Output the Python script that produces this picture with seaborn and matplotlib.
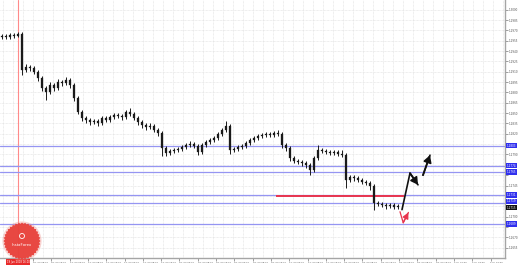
import numpy as np
import pandas as pd
import matplotlib
matplotlib.use("Agg")
import matplotlib.pyplot as plt
import matplotlib.patches as mpatches
import matplotlib.transforms as mtransforms
import seaborn as sns

# ---------------- data ----------------
first_open = 1.2960
closes = [1.2962, 1.2960, 1.2963, 1.2962, 1.2965, 1.2913, 1.2917, 1.2915, 1.2910, 1.2901,
          1.2886, 1.2881, 1.2891, 1.2886, 1.2895, 1.2894, 1.2898, 1.2891, 1.2872, 1.2852,
          1.2843, 1.2840, 1.2837, 1.2839, 1.2836, 1.2843, 1.2840, 1.2844, 1.2847, 1.2846,
          1.2844, 1.2852, 1.2849, 1.2843, 1.2837, 1.2833, 1.2830, 1.2831, 1.2826, 1.2821,
          1.2799, 1.2792, 1.2795, 1.2797, 1.2798, 1.2801, 1.2804, 1.2805, 1.2802, 1.2794,
          1.2804, 1.2808, 1.2811, 1.2814, 1.2820, 1.2826, 1.2831, 1.2797, 1.2798, 1.2801,
          1.2802, 1.2807, 1.2811, 1.2814, 1.2817, 1.2818, 1.2820, 1.2818, 1.2821, 1.2820,
          1.2804, 1.2799, 1.2785, 1.2781, 1.2779, 1.2778, 1.2775, 1.2768, 1.2785, 1.2797,
          1.2795, 1.2794, 1.2792, 1.2794, 1.2791, 1.2789, 1.2753, 1.2757, 1.2756, 1.2753,
          1.2750, 1.2749, 1.2744, 1.2720, 1.2718, 1.2717, 1.2715, 1.2717, 1.2714, 1.2715]
highs = [1.2965, 1.2965, 1.2966, 1.2966, 1.2968, 1.2968, 1.2921, 1.2920, 1.2918, 1.2913,
         1.2904, 1.2889, 1.2895, 1.2894, 1.2899, 1.2898, 1.2902, 1.2901, 1.2894, 1.2875,
         1.2855, 1.2846, 1.2843, 1.2842, 1.2842, 1.2846, 1.2846, 1.2847, 1.2850, 1.2850,
         1.2849, 1.2855, 1.2857, 1.2852, 1.2846, 1.2840, 1.2836, 1.2835, 1.2834, 1.2829,
         1.2824, 1.2802, 1.2798, 1.2800, 1.2801, 1.2804, 1.2807, 1.2809, 1.2808, 1.2805,
         1.2807, 1.2811, 1.2814, 1.2817, 1.2823, 1.2829, 1.2838, 1.2834, 1.2801, 1.2804,
         1.2805, 1.2810, 1.2814, 1.2817, 1.2820, 1.2821, 1.2823, 1.2823, 1.2824, 1.2825,
         1.2823, 1.2807, 1.2802, 1.2788, 1.2784, 1.2782, 1.2781, 1.2778, 1.2788, 1.2804,
         1.2800, 1.2798, 1.2797, 1.2797, 1.2797, 1.2796, 1.2792, 1.2760, 1.2760, 1.2759,
         1.2756, 1.2753, 1.2752, 1.2747, 1.2723, 1.2721, 1.2720, 1.2720, 1.2720, 1.2718]
lows = [1.2957, 1.2957, 1.2958, 1.2959, 1.2960, 1.2905, 1.2909, 1.2911, 1.2906, 1.2897,
        1.2882, 1.2869, 1.2877, 1.2882, 1.2883, 1.2890, 1.2891, 1.2887, 1.2868, 1.2848,
        1.2838, 1.2836, 1.2833, 1.2834, 1.2832, 1.2833, 1.2837, 1.2837, 1.2841, 1.2843,
        1.2840, 1.2841, 1.2846, 1.2840, 1.2833, 1.2829, 1.2826, 1.2827, 1.2822, 1.2817,
        1.2788, 1.2788, 1.2789, 1.2792, 1.2794, 1.2795, 1.2798, 1.2801, 1.2799, 1.2789,
        1.2791, 1.2801, 1.2805, 1.2808, 1.2811, 1.2817, 1.2823, 1.2791, 1.2793, 1.2795,
        1.2798, 1.2799, 1.2804, 1.2808, 1.2811, 1.2814, 1.2815, 1.2815, 1.2815, 1.2817,
        1.2800, 1.2795, 1.2781, 1.2777, 1.2776, 1.2774, 1.2771, 1.2760, 1.2765, 1.2782,
        1.2792, 1.2791, 1.2789, 1.2789, 1.2788, 1.2786, 1.2741, 1.2750, 1.2752, 1.2750,
        1.2747, 1.2746, 1.2739, 1.2710, 1.2715, 1.2714, 1.2711, 1.2712, 1.2711, 1.2711]

level_prices = [1.2803, 1.2774, 1.2765, 1.2731, 1.2719, 1.2689]
level_labels = ["1.2803", "1.2774", "1.2765", "1.2731", "1.2719", "1.2689"]
red_level = 1.2730
red_level_start, red_level_end = 68.5, 100.5
current_price = 1.2715
current_label = "1.2715"
marker_index = 4.0
marker_label = "19 Jun 2018 16:00"

forecast1_x = [100.0, 102.0, 104.0]
forecast1_y = [1.2710, 1.2763, 1.2746]
forecast2_x = [105.25, 107.0]
forecast2_y = [1.2760, 1.2789]
red_arrow_x = [99.5, 100.3, 101.6]
red_arrow_y = [1.2707, 1.2691, 1.2706]

ytick_values = [1.3000, 1.2985, 1.2970, 1.2955, 1.2940, 1.2925, 1.2910, 1.2895, 1.2880,
                1.2865, 1.2850, 1.2835, 1.2820, 1.2805, 1.2790, 1.2775, 1.2760, 1.2745,
                1.2730, 1.2715, 1.2700, 1.2685, 1.2670, 1.2655]
ytick_labels = ["1.3000", "1.2985", "1.2970", "1.2955", "1.2940", "1.2925", "1.2910", "1.2895",
                "1.2880", "1.2865", "1.2850", "1.2835", "1.2820", "1.2805", "1.2790", "1.2775",
                "1.2760", "1.2745", "1.2730", "1.2715", "1.2700", "1.2685", "1.2670", "1.2655"]
xtick_labels = ["20 Jun 08:00", "20 Jun 16:00", "21 Jun 00:00", "21 Jun 08:00", "21 Jun 16:00",
                "22 Jun 00:00", "22 Jun 08:00", "22 Jun 16:00", "25 Jun 00:00", "25 Jun 08:00",
                "25 Jun 16:00", "26 Jun 00:00", "26 Jun 08:00", "26 Jun 16:00", "27 Jun 00:00",
                "27 Jun 08:00", "27 Jun 16:00", "28 Jun 00:00", "28 Jun 08:00", "28 Jun 16:00",
                "29 Jun 00:00", "29 Jun 08:00", "29 Jun 16:00", "2 Jul 00:00", "2 Jul 08:00",
                "2 Jul 16:00"]

# ---------------- frame ----------------
sns.set_theme(style="white")
plt.rcParams["font.family"] = ["DejaVu Sans"]

W, H = 518, 265
fig = plt.figure(figsize=(W / 100, H / 100), dpi=100)
fig.patch.set_facecolor("white")
ax = fig.add_axes([0, 7 / H, 505 / W, 258 / H])
ax.set_facecolor("white")

ax.set_xlim(-0.5, 125.75)
ax.set_ylim(1.26399, 1.3014)

df = pd.DataFrame({"idx": np.arange(len(closes)), "close": closes, "high": highs, "low": lows})
df["open"] = [first_open] + closes[:-1]

# grid
for yv in ytick_values:
    ax.axhline(yv, color="#dedede", lw=0.5, ls=(0, (1, 1)), zorder=0)
for px in np.arange(3.3, 505, 10.0):
    ax.axvline((px - 2) / 4, color="#dedede", lw=0.5, ls=(0, (1, 1)), zorder=0)

# marker vertical line
ax.axvline(marker_index, color="#ff8a8a", lw=0.8, zorder=1)

# levels
for lv in level_prices:
    ax.axhline(lv, color="#9595f2", lw=0.9, zorder=2)
ax.hlines(red_level, red_level_start, red_level_end, color="#e8344e", lw=1.4, zorder=3)

# candles
ax.vlines(df["idx"], df["low"], df["high"], color="#1a1a1a", lw=0.7, zorder=4)
diff = df["close"] - df["open"]
body_h = diff.where(diff.abs() > 0.00004, 0.00004)
ax.bar(df["idx"], body_h, bottom=df["open"], width=0.42, color="#1a1a1a", edgecolor="#1a1a1a",
       linewidth=0.2, zorder=5)

# forecast arrows
f1 = pd.DataFrame({"x": forecast1_x, "y": forecast1_y})
sns.lineplot(data=f1, x="x", y="y", ax=ax, color="#111111", lw=1.2, sort=False, zorder=6)
ax.annotate("", xy=(forecast1_x[-1], forecast1_y[-1]), xytext=(forecast1_x[-2], forecast1_y[-2]),
            arrowprops=dict(arrowstyle="-|>,head_length=0.35,head_width=0.2", color="#111111", lw=1.2,
                            shrinkA=0, shrinkB=0), zorder=6)
f2 = pd.DataFrame({"x": forecast2_x, "y": forecast2_y})
sns.lineplot(data=f2, x="x", y="y", ax=ax, color="#111111", lw=1.2, sort=False, zorder=6)
ax.annotate("", xy=(forecast2_x[-1], forecast2_y[-1]), xytext=(forecast2_x[-2], forecast2_y[-2]),
            arrowprops=dict(arrowstyle="-|>,head_length=0.35,head_width=0.2", color="#111111", lw=1.2,
                            shrinkA=0, shrinkB=0), zorder=6)
fr = pd.DataFrame({"x": red_arrow_x, "y": red_arrow_y})
sns.lineplot(data=fr, x="x", y="y", ax=ax, color="#e8344e", lw=0.9, sort=False, zorder=6)
ax.annotate("", xy=(red_arrow_x[-1], red_arrow_y[-1]), xytext=(red_arrow_x[-2], red_arrow_y[-2]),
            arrowprops=dict(arrowstyle="-|>,head_length=0.3,head_width=0.15", color="#e8344e", lw=0.9,
                            shrinkA=0, shrinkB=0), zorder=6)
ax.set_xlabel("")
ax.set_ylabel("")

# spines
for s in ["top", "left"]:
    ax.spines[s].set_visible(False)
for s in ["right", "bottom"]:
    ax.spines[s].set_visible(True)
    ax.spines[s].set_color("#a5a5a5")
    ax.spines[s].set_linewidth(1.0)

# y axis on right (plain labels hidden where a price box sits on top)
box_prices = level_prices + [current_price]
shown = [lab if min(abs(v - b) for b in box_prices) > 0.0006 else "" for v, lab in zip(ytick_values, ytick_labels)]
ax.yaxis.tick_right()
ax.set_yticks(ytick_values)
ax.set_yticklabels(shown)
ax.tick_params(axis="y", which="major", right=True, left=False, length=2, width=0.5, color="#777777",
               labelsize=2.0, labelcolor="#555555", pad=1)

# x ticks
xpos = [(33 + 18.3 * k - 2) / 4 for k in range(len(xtick_labels))]
ax.set_xticks(xpos)
ax.set_xticklabels(xtick_labels, ha="left")
ax.tick_params(axis="x", which="major", bottom=True, length=2, width=0.5, color="#777777",
               labelsize=1.7, labelcolor="#555555", pad=0.8)

# label boxes on price axis
yax_tr = mtransforms.blended_transform_factory(ax.transAxes, ax.transData)
for lv, lab in zip(level_prices, level_labels):
    if abs(lv - current_price) < 0.0006:
        continue_pos = 0.0003
    else:
        continue_pos = 0.0
    ax.text(1.004, lv + continue_pos, lab, transform=yax_tr, fontsize=2.0, color="white", va="center", ha="left",
            bbox=dict(boxstyle="square,pad=0.3", fc="#3030ee", ec="none"), zorder=10, clip_on=False)
ax.text(1.004, current_price - 0.0002, current_label, transform=yax_tr, fontsize=2.0, color="white", va="center",
        ha="left", bbox=dict(boxstyle="square,pad=0.3", fc="#111111", ec="none"), zorder=11, clip_on=False)

# marker date label box
xax_tr = mtransforms.blended_transform_factory(ax.transData, ax.transAxes)
ax.text(marker_index, -0.008, marker_label, transform=xax_tr, fontsize=1.8, color="white",
        va="top", ha="center", bbox=dict(boxstyle="square,pad=0.3", fc="#e82a2a", ec="none"),
        zorder=11, clip_on=False)

# logo
cx, cy, r = 0.22, (H - 241) / 100, 0.185
ang = np.linspace(0, 2 * np.pi, 73)
rad = np.where(np.arange(73) % 2 == 0, r, r * 0.93)
verts = np.column_stack([cx + rad * np.cos(ang), cy + rad * np.sin(ang)])
fig.patches.append(mpatches.Circle((cx, cy), r * 1.06, transform=fig.dpi_scale_trans,
                                   fc="#f08a85", ec="none", alpha=0.35, zorder=19))
fig.patches.append(mpatches.Polygon(verts, closed=True, transform=fig.dpi_scale_trans,
                                    fc="#e8403a", ec="none", alpha=0.95, zorder=20))
fig.patches.append(mpatches.Circle((cx, cy + 0.05), 0.025, transform=fig.dpi_scale_trans,
                                   fc="none", ec="white", lw=0.6, zorder=21))
fig.text(cx, cy - 0.035, "InstaForex", transform=fig.dpi_scale_trans, fontsize=2.8, color="white",
         ha="center", va="center", zorder=22)

fig.savefig("out.png", dpi=100, facecolor="white")
